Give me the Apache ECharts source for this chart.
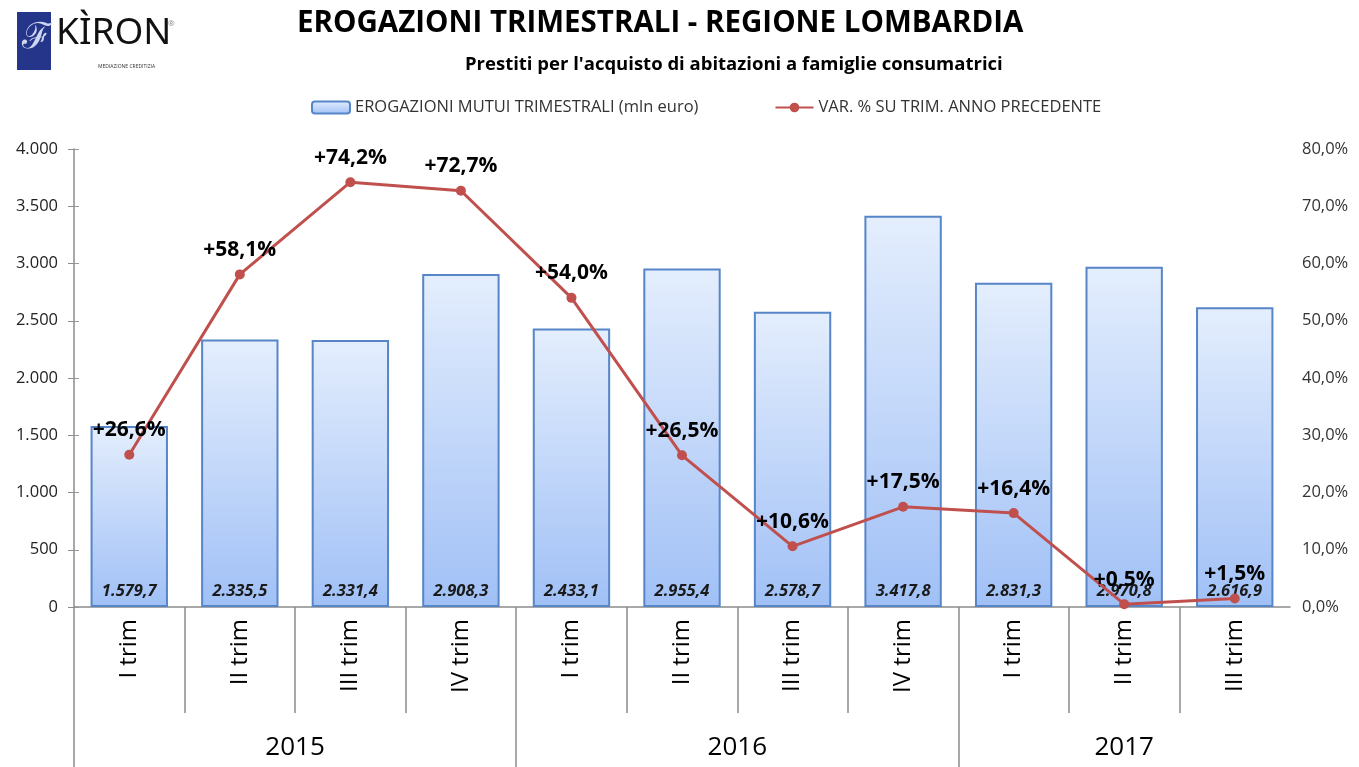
<!DOCTYPE html>
<html>
<head>
<meta charset="utf-8">
<title>Erogazioni trimestrali - Regione Lombardia</title>
<script src="https://cdn.jsdelivr.net/npm/echarts@6/dist/echarts.min.js"></script>
<style>
  html, body { margin: 0; padding: 0; background: #fff; }
  #chart { width: 1359px; height: 767px; }
</style>
</head>
<body>
<div id="chart"></div>
<script>
// dati
const quarters = ["I trim", "II trim", "III trim", "IV trim", "I trim", "II trim", "III trim", "IV trim", "I trim", "II trim", "III trim"];
const years = ["2015", "2016", "2017"];
const yearSpans = [4, 4, 3];
const erogazioni = [1579.7, 2335.5, 2331.4, 2908.3, 2433.1, 2955.4, 2578.7, 3417.8, 2831.3, 2970.8, 2616.9];
const variazioni = [26.6, 58.1, 74.2, 72.7, 54.0, 26.5, 10.6, 17.5, 16.4, 0.5, 1.5];

const FONT = "Open Sans";

// formato italiano: 2.335,5
function fmt(v, dec) {
  const parts = v.toFixed(dec).split(".");
  parts[0] = parts[0].replace(/\B(?=(\d{3})+(?!\d))/g, ".");
  return parts.join(",");
}

// confini degli anni sull'asse (0, 4, 8, 11) e centri delle etichette
const yearBounds = [0];
const yearCenters = [];
yearSpans.forEach((s, i) => {
  const start = yearBounds[i];
  yearBounds.push(start + s);
  yearCenters.push(start + s / 2);
});
const innerBounds = [];
for (let i = 1; i < quarters.length; i++) {
  if (!yearBounds.includes(i)) innerBounds.push(i);
}

const chart = echarts.init(document.getElementById("chart"));

const option = {
  animation: false,
  textStyle: { fontFamily: FONT },
  title: [
    {
      text: "EROGAZIONI TRIMESTRALI - REGIONE LOMBARDIA",
      left: 292,
      top: 4,
      textStyle: { fontSize: 29.5, fontWeight: "bold", color: "#000", fontFamily: FONT }
    },
    {
      text: "Prestiti per l'acquisto di abitazioni a famiglie consumatrici",
      left: 460,
      top: 50,
      textStyle: { fontSize: 18.5, fontWeight: "bold", color: "#000", fontFamily: FONT }
    }
  ],
  graphic: [
    {
      type: "rect",
      left: 17, top: 12,
      shape: { width: 34, height: 58 },
      style: { fill: "#24358a" }
    },
    {
      type: "text",
      left: 22, top: 20,
      style: { text: "ℱ", fontSize: 36, fill: "#cfd6f0", fontFamily: "Noto Sans" }
    },
    {
      type: "text",
      left: 56, top: 15,
      style: { text: "KÌRON", fontSize: 37, fill: "#111", fontFamily: "Noto Sans" }
    },
    {
      type: "text",
      left: 168, top: 20,
      style: { text: "®", fontSize: 8, fill: "#888", fontFamily: FONT }
    },
    {
      type: "text",
      left: 98, top: 64,
      style: { text: "MEDIAZIONE CREDITIZIA", fontSize: 5, fill: "#333", fontFamily: FONT }
    }
  ],
  legend: {
    left: 306,
    top: 94,
    itemWidth: 38,
    itemHeight: 12,
    itemGap: 76,
    textStyle: { fontSize: 16.5, color: "#333", fontFamily: FONT },
    data: ["EROGAZIONI MUTUI TRIMESTRALI (mln euro)", "VAR. % SU TRIM. ANNO PRECEDENTE"]
  },
  grid: { left: 74, right: 69, top: 149, bottom: 160 },
  xAxis: [
    {
      type: "category",
      data: quarters,
      axisLine: { lineStyle: { color: "#8c8c8c", width: 1.5 } },
      axisTick: { show: false },
      axisLabel: { rotate: 90, fontSize: 24, color: "#000", margin: 12, fontFamily: FONT }
    },
    {
      type: "value",
      min: 0,
      max: quarters.length,
      position: "bottom",
      axisLine: { show: false },
      splitLine: { show: false },
      axisTick: { show: true, customValues: innerBounds, length: 106, lineStyle: { color: "#8c8c8c", width: 1.5 } },
      axisLabel: { show: false }
    },
    {
      type: "value",
      min: 0,
      max: quarters.length,
      position: "bottom",
      axisLine: { show: false },
      splitLine: { show: false },
      axisTick: { show: true, customValues: yearBounds.slice(0, -1), length: 160, lineStyle: { color: "#8c8c8c", width: 1.5 } },
      axisLabel: {
        customValues: yearCenters,
        formatter: v => years[yearCenters.indexOf(v)],
        fontSize: 26,
        color: "#000",
        margin: 128,
        fontFamily: FONT
      }
    }
  ],
  yAxis: [
    {
      type: "value",
      min: 0,
      max: 4000,
      interval: 500,
      axisLine: { show: true, lineStyle: { color: "#8c8c8c", width: 1.5 } },
      axisTick: { show: true, length: 6, lineStyle: { color: "#8c8c8c" } },
      splitLine: { show: false },
      axisLabel: { formatter: v => fmt(v, 0), fontSize: 16.5, color: "#222", margin: 16, fontFamily: FONT }
    },
    {
      type: "value",
      min: 0,
      max: 80,
      interval: 10,
      position: "right",
      axisLine: { show: false },
      axisTick: { show: true, length: 5, lineStyle: { color: "#999" } },
      splitLine: { show: false },
      axisLabel: { formatter: v => fmt(v, 1) + "%", fontSize: 16.5, color: "#333", margin: 12, fontFamily: FONT }
    }
  ],
  series: [
    {
      name: "EROGAZIONI MUTUI TRIMESTRALI (mln euro)",
      type: "bar",
      data: erogazioni,
      barWidth: "70%",
      itemStyle: {
        color: new echarts.graphic.LinearGradient(0, 0, 0, 1, [
          { offset: 0, color: "#e4eefd" },
          { offset: 1, color: "#a0c0f6" }
        ]),
        borderColor: "#5685c8",
        borderWidth: 2
      },
      label: {
        show: true,
        position: "insideBottom",
        distance: 7,
        formatter: p => fmt(p.value, 1),
        fontSize: 16.5,
        fontStyle: "italic",
        fontWeight: "bold",
        color: "#1a1a1a",
        fontFamily: FONT
      },
      z: 2
    },
    {
      name: "VAR. % SU TRIM. ANNO PRECEDENTE",
      type: "line",
      yAxisIndex: 1,
      data: variazioni,
      symbol: "circle",
      symbolSize: 10,
      lineStyle: { color: "#c0504d", width: 3 },
      itemStyle: { color: "#c0504d" },
      label: {
        show: true,
        position: "top",
        distance: 9,
        formatter: p => "+" + fmt(p.value, 1) + "%",
        fontSize: 21,
        fontWeight: "bold",
        color: "#000",
        fontFamily: FONT
      },
      z: 3
    }
  ]
};

chart.setOption(option);
</script>
</body>
</html>
